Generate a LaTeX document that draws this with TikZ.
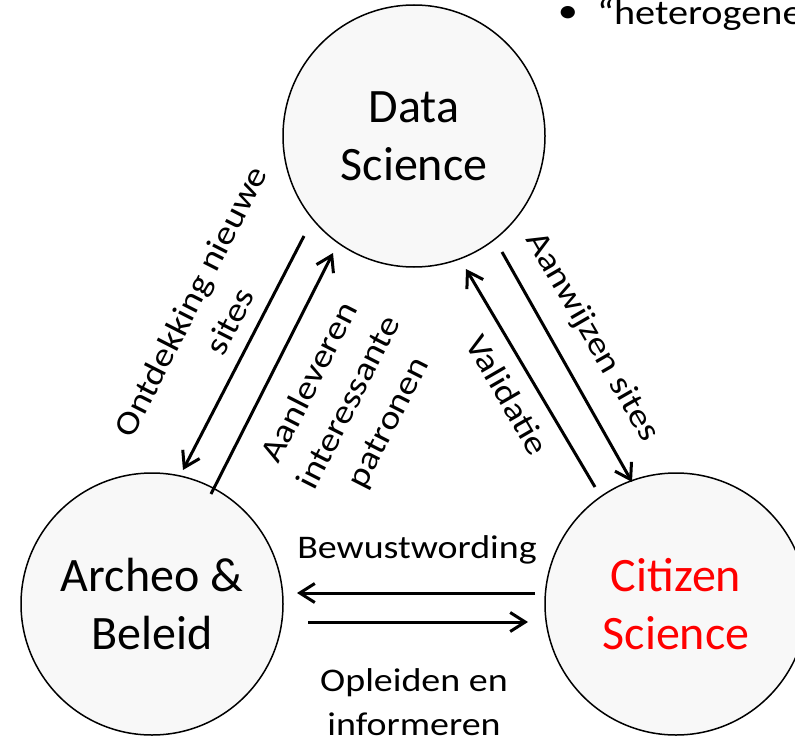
\documentclass[tikz,border=0pt]{standalone}
\usepackage{fontspec}
\setmainfont{Carlito}
\newfontfamily\lblfont[FakeStretch=1.15]{Carlito}
\usetikzlibrary{arrows.meta}
\definecolor{circfill}{HTML}{F8F8F8}
\begin{document}
\begin{tikzpicture}[x=1pt,y=-1pt,
  bubble/.style={circle,draw=black,line width=1.5pt,fill=circfill,minimum size=262pt,inner sep=0pt,align=center,font=\fontsize{48}{58}\selectfont},
  flow/.style={line width=3pt,-{Straight Barb[length=15pt,width=19pt]}},
  lbl/.style={align=center,font=\lblfont\fontsize{33}{44}\selectfont,inner sep=0pt}]
\useasboundingbox (0,0) rectangle (795,741);
\clip (0,0) rectangle (795,741);
\node[bubble] (ds) at (414,136) {Data\\Science};
\node[bubble] (ab) at (152,604) {Archeo \&\\Beleid};
\node[bubble,text=red] (cs) at (676,604) {Citizen\\Science};
% arrow end points
\coordinate (o1) at (304,236); \coordinate (o2) at (183,470);
\coordinate (a1) at (211,494); \coordinate (a2) at (333,253);
\coordinate (v1) at (595,487); \coordinate (v2) at (466,269);
\coordinate (w1) at (502,252); \coordinate (w2) at (632,482);
\coordinate (b1) at (535,593); \coordinate (b2) at (297,593);
\coordinate (p1) at (308,622); \coordinate (p2) at (528,622);
\draw[flow] (o1) -- (o2);
\draw[flow] (a1) -- (a2);
\draw[flow] (v1) -- (v2);
\draw[flow] (w1) -- (w2);
\draw[flow] (b1) -- (b2);
\draw[flow] (p1) -- (p2);
% labels
\node[lbl,rotate=63] (lont) at (210,311) {Ontdekking nieuwe\\sites};
\node[lbl,rotate=63] (laan) at (350,403) {Aanleveren\\interessante\\patronen};
\node[lbl,rotate=-60] (lwij) at (592,337) {Aanwijzen sites};
\node[lbl,rotate=-60] (lval) at (508,395) {Validatie};
\node[lbl,anchor=base] (lbew) at (417,558) {Bewustwording};
\node[lbl] (lopl) at (414,702) {Opleiden en\\informeren};
% partial bullet text top right
\node[lbl,font=\lblfont\fontsize{35}{42}\selectfont] (bul) at (568,14) {•};
\node[lbl,font=\lblfont\fontsize{35}{42}\selectfont,anchor=base west] (het) at (597,25) {“heterogene};
\end{tikzpicture}
\end{document}
